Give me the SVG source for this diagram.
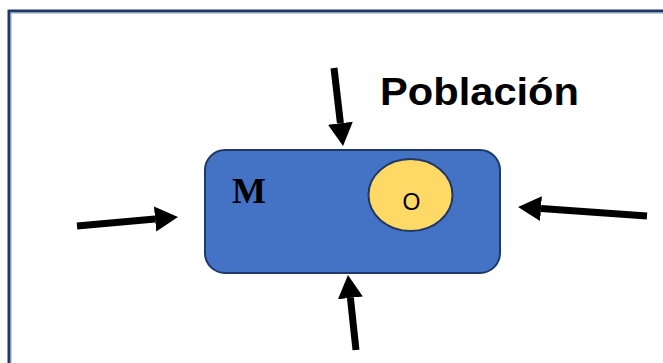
<svg xmlns="http://www.w3.org/2000/svg" width="663" height="363" viewBox="0 0 663 363">
<defs>
<style>
.arrow{stroke:#000;stroke-width:7;fill:none}
.lbl{font-family:"Liberation Sans",Arial,sans-serif;fill:#000}
</style>
<marker id="head" markerUnits="userSpaceOnUse" markerWidth="24" markerHeight="26" refX="0" refY="12.5" orient="auto">
<path d="M0,0 L23,12.5 L0,25 z" fill="#000"/>
</marker>
</defs>
<rect x="0" y="0" width="663" height="363" fill="#fff"/>
<g id="frame">
<rect x="9" y="11" width="720" height="420" fill="none" stroke="#1F3864" stroke-width="3"/>
<rect x="11" y="13" width="716" height="416" fill="none" stroke="#7F9CCB" stroke-width="1"/>
</g>
<g id="M">
<rect x="205" y="150" width="295" height="123" rx="20" ry="20" fill="#4472C4" stroke="#1F3864" stroke-width="2"/>
<text x="232" y="203" font-family="'Liberation Serif','Times New Roman',serif" font-weight="bold" font-size="36" fill="#000">M</text>
</g>
<g id="O">
<ellipse cx="410.5" cy="195" rx="42" ry="36" fill="#FFD966" stroke="#1F3864" stroke-width="2"/>
<text class="lbl" x="411.5" y="210" font-size="23" text-anchor="middle">O</text>
</g>
<g id="poblacion">
<text class="lbl" x="380" y="105" font-size="39" font-weight="bold" textLength="199" lengthAdjust="spacingAndGlyphs">Población</text>
</g>
<g id="connectors">
<line class="arrow" x1="334" y1="68" x2="340.4" y2="123.2" marker-end="url(#head)"/>
<line class="arrow" x1="77" y1="226" x2="155.1" y2="219" marker-end="url(#head)"/>
<line class="arrow" x1="647" y1="216" x2="541" y2="208.6" marker-end="url(#head)"/>
<line class="arrow" x1="356" y1="350" x2="350.4" y2="297.9" marker-end="url(#head)"/>
</g>
</svg>
